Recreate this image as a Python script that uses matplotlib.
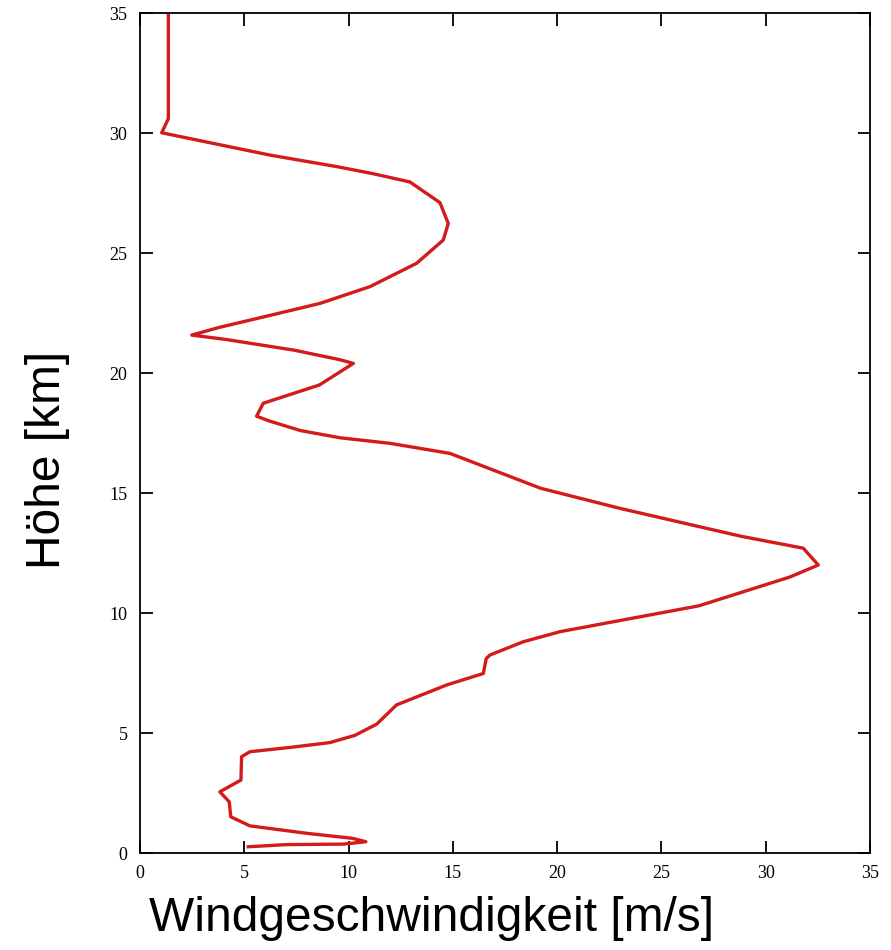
import numpy as np
import matplotlib
matplotlib.use("Agg")
import matplotlib.pyplot as plt

# Wind profile (speed in m/s, height in km), bottom to top
wind = [5.19, 7.03, 9.75, 10.83, 10.2, 8.0, 5.27, 4.35, 4.28, 3.83, 4.84, 4.87,
        5.27, 7.2, 9.1, 10.3, 11.35, 12.3, 14.7, 16.46, 16.6, 16.78, 18.37, 20.13,
        26.8, 31.16, 32.52, 31.8, 28.8, 23.01, 19.2, 14.86, 11.98, 9.6, 7.7, 6.2,
        5.59, 5.91, 8.6, 10.23, 9.6, 7.4, 4.1, 2.48, 3.8, 6.23, 8.63, 11.03,
        13.26, 14.54, 14.78, 14.38, 12.94, 11.2, 9.43, 6.23, 1.04, 1.36, 1.36]
height = [0.26, 0.35, 0.37, 0.47, 0.61, 0.82, 1.13, 1.51, 2.13, 2.55, 3.04, 4.01,
          4.22, 4.4, 4.6, 4.9, 5.37, 6.17, 7.0, 7.48, 8.1, 8.25, 8.8, 9.22,
          10.3, 11.5, 12.0, 12.7, 13.2, 14.36, 15.2, 16.65, 17.07, 17.3, 17.6, 18.0,
          18.2, 18.74, 19.5, 20.4, 20.55, 20.95, 21.4, 21.58, 21.9, 22.4, 22.9, 23.6,
          24.57, 25.54, 26.23, 27.1, 27.96, 28.3, 28.6, 29.08, 30.01, 30.6, 35.0]

ticks = [0, 5, 10, 15, 20, 25, 30, 35]

fig = plt.figure(figsize=(8.91, 9.5), dpi=100)
ax = fig.add_axes([140/891, 97/950, 730/891, 840/950])

ax.plot(wind, height, color="#d41a1a", linewidth=2.4)

ax.set_xlim(0, 35)
ax.set_ylim(0, 35)
ax.set_xticks(ticks)
ax.set_yticks(ticks)

for s in ax.spines.values():
    s.set_linewidth(1.3)

ax.tick_params(direction="in", length=9, width=1.3, top=True, right=True,
               labelsize=13, pad=9)
for lab in ax.get_xticklabels() + ax.get_yticklabels():
    lab.set_family("Liberation Serif")

ax.set_xlabel("Windgeschwindigkeit [m/s]", family="Liberation Sans",
              fontsize=34.5, va="center")
ax.xaxis.set_label_coords(0.399, -0.078)
ax.set_ylabel("Höhe [km]", family="Liberation Sans", fontsize=34.5, va="center")
ax.yaxis.set_label_coords(-0.127, 0.468)

fig.savefig("out.png", dpi=100)
